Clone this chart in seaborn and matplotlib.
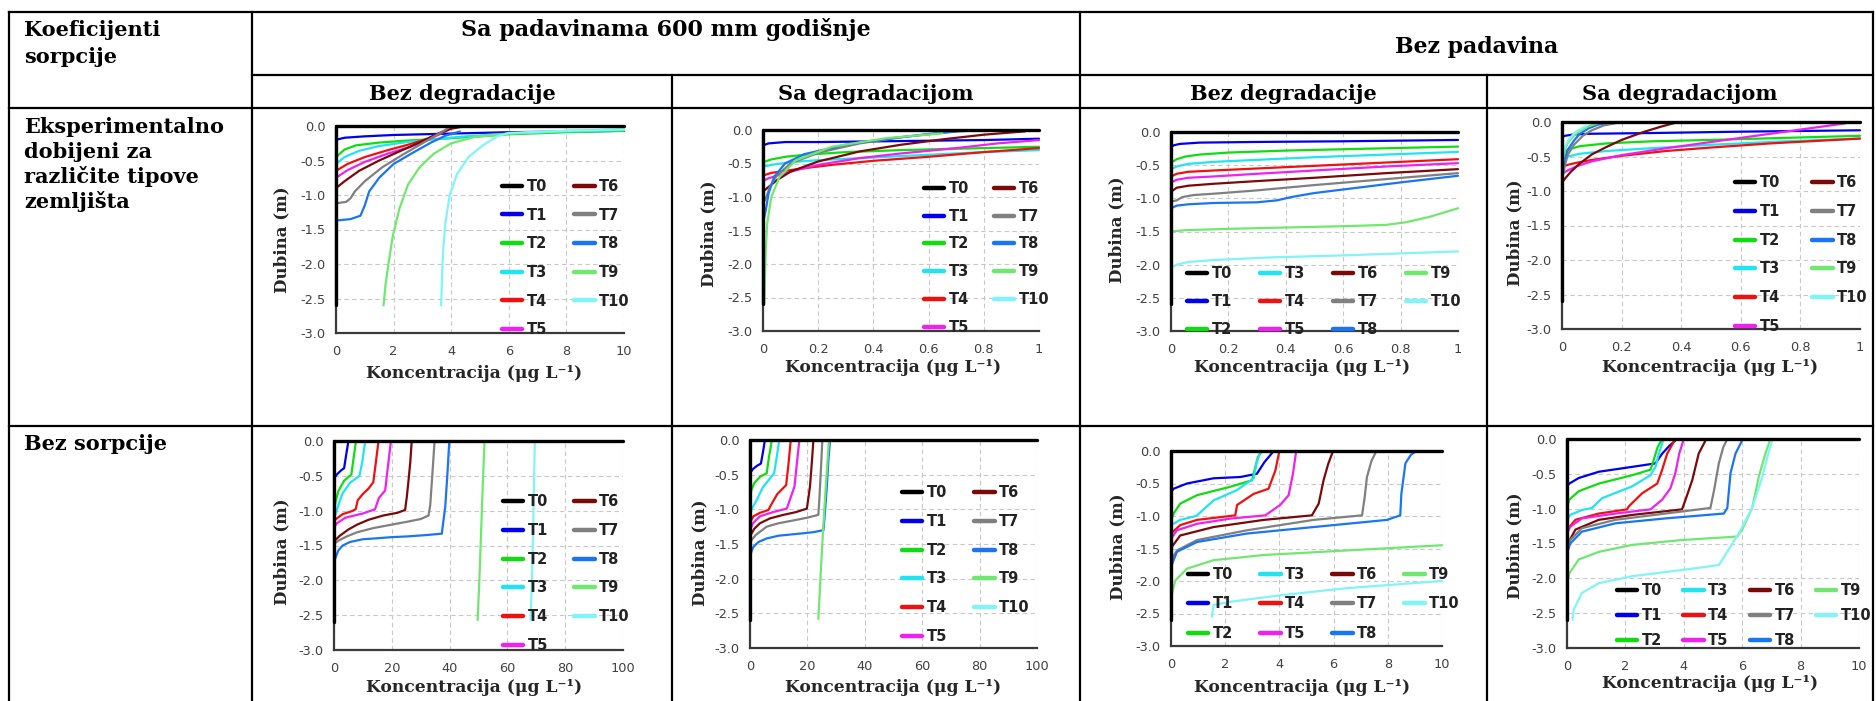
import numpy as np
import pandas as pd
import matplotlib
matplotlib.use("Agg")
import matplotlib.pyplot as plt
from matplotlib.lines import Line2D
import seaborn as sns

# Series names and colours (T0 = initial profile)
SERIJE = ["T0", "T1", "T2", "T3", "T4", "T5", "T6", "T7", "T8", "T9", "T10"]
BOJE = {"T0": "#000000", "T1": "#0000f0", "T2": "#10dd10", "T3": "#20e4f0",
        "T4": "#f01010", "T5": "#f020f0", "T6": "#7a0a0a", "T7": "#808080",
        "T8": "#1a75f5", "T9": "#70e870", "T10": "#80f4f8"}

# Each series: (concentration, depth)
# Sa padavinama, eksperimentalna sorpcija, bez degradacije
A_BEZ_DEG = {
    "T0": ([0, 0, 10], [-2.6, 0, 0]),
    "T1": ([0, 0.3, 1, 2, 4, 6, 8, 10], [-0.20, -0.17, -0.15, -0.13, -0.11, -0.09, -0.08, -0.07]),
    "T2": ([0, 0.3, 0.7, 1.5, 2.5, 3.5, 5, 6, 8, 10], [-0.45, -0.34, -0.28, -0.24, -0.21, -0.19, -0.15, -0.12, -0.09, -0.07]),
    "T3": ([0, 0.3, 0.8, 1.5, 2.5, 3.5, 4.5, 6, 8, 10], [-0.55, -0.45, -0.36, -0.29, -0.23, -0.19, -0.15, -0.11, -0.08, -0.06]),
    "T4": ([0, 0.4, 1, 1.8, 2.6, 3.2, 3.6, 4.0, 4.3], [-0.65, -0.55, -0.45, -0.35, -0.26, -0.18, -0.1, -0.03, 0.0]),
    "T5": ([0, 0.4, 1, 1.8, 2.6, 3.2, 3.6, 3.9, 4.1], [-0.75, -0.64, -0.52, -0.4, -0.3, -0.2, -0.12, -0.05, 0.0]),
    "T6": ([0, 0.3, 0.8, 1.5, 2.3, 3.0, 3.5, 4.0, 4.5], [-0.9, -0.8, -0.65, -0.5, -0.35, -0.22, -0.12, -0.04, 0.0]),
    "T7": ([0, 0.35, 0.5, 0.65, 1.0, 1.6, 2.3, 3.0, 3.5, 3.9], [-1.12, -1.1, -1.05, -0.95, -0.8, -0.6, -0.42, -0.25, -0.13, -0.03]),
    "T8": ([0, 0.5, 0.85, 1.0, 1.15, 1.5, 2.0, 2.7, 3.3, 3.8, 4.3], [-1.37, -1.35, -1.3, -1.15, -0.95, -0.75, -0.55, -0.38, -0.24, -0.14, -0.08]),
    "T9": ([1.65, 1.72, 1.82, 1.97, 2.2, 2.5, 2.9, 3.4, 4.0, 4.8, 6.0, 8.0, 10], [-2.6, -2.3, -2.0, -1.6, -1.2, -0.85, -0.6, -0.4, -0.25, -0.16, -0.11, -0.07, -0.05]),
    "T10": ([3.65, 3.68, 3.72, 3.8, 3.95, 4.2, 4.6, 5.1, 5.6, 6.0, 8.0, 10], [-2.6, -2.2, -1.8, -1.4, -1.0, -0.7, -0.45, -0.28, -0.15, -0.1, -0.07, -0.05]),
}

# Sa padavinama, eksperimentalna sorpcija, sa degradacijom
A_SA_DEG = {
    "T0": ([0, 0, 1], [-2.6, 0, 0]),
    "T1": ([0, 0.02, 0.08, 0.2, 0.4, 0.6, 0.8, 1.0], [-0.23, -0.2, -0.18, -0.18, -0.17, -0.16, -0.15, -0.13]),
    "T2": ([0, 0.03, 0.08, 0.15, 0.3, 0.5, 0.7, 1.0], [-0.48, -0.44, -0.4, -0.37, -0.33, -0.3, -0.28, -0.25]),
    "T3": ([0, 0.03, 0.1, 0.2, 0.4, 0.6, 0.8, 1.0], [-0.55, -0.52, -0.48, -0.45, -0.41, -0.37, -0.33, -0.3]),
    "T4": ([0, 0.03, 0.08, 0.15, 0.25, 0.4, 0.6, 0.8, 1.0], [-0.68, -0.64, -0.61, -0.57, -0.52, -0.46, -0.4, -0.33, -0.27]),
    "T5": ([0, 0.02, 0.06, 0.12, 0.2, 0.35, 0.5, 0.7, 0.85, 1.0], [-0.76, -0.72, -0.67, -0.6, -0.52, -0.42, -0.35, -0.27, -0.2, -0.15]),
    "T6": ([0, 0.02, 0.05, 0.1, 0.2, 0.35, 0.5, 0.65, 0.8, 0.95], [-0.92, -0.85, -0.75, -0.62, -0.47, -0.32, -0.22, -0.14, -0.07, -0.02]),
    "T7": ([0, 0.01, 0.025, 0.05, 0.1, 0.2, 0.35, 0.5, 0.65, 0.75], [-1.1, -1.02, -0.85, -0.68, -0.5, -0.34, -0.2, -0.11, -0.04, -0.01]),
    "T8": ([0, 0.01, 0.02, 0.04, 0.08, 0.15, 0.3, 0.45, 0.6, 0.7], [-1.38, -1.2, -0.95, -0.7, -0.5, -0.36, -0.22, -0.13, -0.06, -0.02]),
    "T9": ([0.005, 0.007, 0.01, 0.015, 0.03, 0.06, 0.12, 0.25, 0.45, 0.65], [-2.6, -2.2, -1.8, -1.4, -1.0, -0.7, -0.45, -0.25, -0.12, -0.05]),
    "T10": ([0, 0, 0], [-2.6, -2.0, -1.5]),
}

# Bez padavina, eksperimentalna sorpcija, bez degradacije
B_BEZ_DEG = {
    "T0": ([0, 0, 1], [-2.6, 0, 0]),
    "T1": ([0, 0.01, 0.03, 0.1, 0.3, 0.6, 1.0], [-0.23, -0.2, -0.18, -0.16, -0.15, -0.14, -0.12]),
    "T2": ([0, 0.02, 0.05, 0.1, 0.2, 0.4, 0.7, 1.0], [-0.46, -0.41, -0.37, -0.34, -0.31, -0.28, -0.25, -0.22]),
    "T3": ([0, 0.02, 0.06, 0.15, 0.3, 0.5, 0.75, 1.0], [-0.56, -0.52, -0.48, -0.45, -0.42, -0.38, -0.34, -0.3]),
    "T4": ([0, 0.02, 0.06, 0.15, 0.3, 0.5, 0.75, 1.0], [-0.67, -0.63, -0.6, -0.58, -0.55, -0.51, -0.46, -0.41]),
    "T5": ([0, 0.02, 0.06, 0.15, 0.3, 0.5, 0.75, 1.0], [-0.76, -0.72, -0.69, -0.67, -0.63, -0.58, -0.52, -0.47]),
    "T6": ([0, 0.02, 0.06, 0.15, 0.3, 0.5, 0.75, 1.0], [-0.9, -0.84, -0.81, -0.78, -0.74, -0.69, -0.62, -0.56]),
    "T7": ([0, 0.02, 0.04, 0.08, 0.15, 0.3, 0.5, 0.75, 1.0], [-1.05, -1.03, -0.98, -0.95, -0.93, -0.88, -0.8, -0.71, -0.62]),
    "T8": ([0, 0.02, 0.06, 0.15, 0.3, 0.37, 0.42, 0.5, 0.65, 0.8, 1.0], [-1.15, -1.11, -1.09, -1.07, -1.06, -1.03, -0.98, -0.92, -0.84, -0.76, -0.66]),
    "T9": ([0, 0.05, 0.2, 0.4, 0.6, 0.75, 0.82, 0.9, 1.0], [-1.5, -1.48, -1.46, -1.44, -1.42, -1.4, -1.36, -1.28, -1.15]),
    "T10": ([0, 0.02, 0.06, 0.15, 0.35, 0.6, 0.8, 1.0], [-2.05, -2.0, -1.96, -1.93, -1.89, -1.86, -1.83, -1.8]),
}

# Bez padavina, eksperimentalna sorpcija, sa degradacijom
B_SA_DEG = {
    "T0": ([0, 0, 1], [-2.6, 0, 0]),
    "T1": ([0, 0.01, 0.04, 0.1, 0.3, 0.6, 1.0], [-0.22, -0.2, -0.18, -0.17, -0.16, -0.14, -0.12]),
    "T2": ([0, 0.02, 0.06, 0.15, 0.3, 0.5, 0.75, 1.0], [-0.46, -0.4, -0.35, -0.31, -0.28, -0.26, -0.23, -0.2]),
    "T3": ([0, 0.02, 0.06, 0.15, 0.3, 0.5, 0.75, 1.0], [-0.55, -0.5, -0.46, -0.42, -0.38, -0.33, -0.28, -0.24]),
    "T4": ([0, 0.02, 0.05, 0.1, 0.2, 0.35, 0.5, 0.7, 1.0], [-0.65, -0.62, -0.59, -0.55, -0.49, -0.42, -0.37, -0.31, -0.24]),
    "T5": ([0, 0.02, 0.05, 0.1, 0.2, 0.35, 0.5, 0.65, 0.8, 0.95], [-0.75, -0.7, -0.64, -0.57, -0.48, -0.38, -0.29, -0.2, -0.11, -0.02]),
    "T6": ([0, 0.01, 0.03, 0.06, 0.1, 0.15, 0.2, 0.27, 0.33, 0.39], [-0.88, -0.82, -0.72, -0.6, -0.47, -0.36, -0.26, -0.15, -0.07, 0.0]),
    "T7": ([0.005, 0.01, 0.02, 0.04, 0.07, 0.1, 0.14, 0.2], [-0.75, -0.62, -0.47, -0.33, -0.2, -0.12, -0.05, 0.0]),
    "T8": ([0.005, 0.01, 0.02, 0.04, 0.06, 0.09, 0.12, 0.16], [-0.62, -0.52, -0.4, -0.27, -0.17, -0.09, -0.04, 0.0]),
    "T9": ([0.002, 0.005, 0.01, 0.02, 0.04, 0.06, 0.09, 0.12], [-0.62, -0.5, -0.4, -0.3, -0.2, -0.13, -0.06, -0.02]),
    "T10": ([0.002, 0.005, 0.01, 0.02, 0.035, 0.05, 0.08], [-0.55, -0.45, -0.36, -0.27, -0.19, -0.13, -0.06]),
}

# Sa padavinama, bez sorpcije, bez degradacije
C_BEZ_DEG = {
    "T0": ([0, 0, 100], [-2.6, 0, 0]),
    "T1": ([0, 1, 2.5, 3.5, 4.2, 5.0], [-0.54, -0.48, -0.42, -0.39, -0.2, 0.0]),
    "T2": ([0, 0.5, 1.5, 3.5, 6.0, 6.6, 7.6], [-1.0, -0.88, -0.72, -0.57, -0.48, -0.3, 0.0]),
    "T3": ([0, 0.5, 1.5, 3, 5.5, 8.8, 9.8, 10.8], [-1.12, -1.05, -0.92, -0.75, -0.6, -0.5, -0.3, 0.0]),
    "T4": ([0, 1, 3, 6, 7.5, 8.2, 10, 12, 13.6, 14.5, 15.4], [-1.15, -1.11, -1.05, -1.01, -0.98, -0.85, -0.76, -0.68, -0.59, -0.3, 0.0]),
    "T5": ([0, 1, 4, 10, 14.2, 15.5, 17.7, 18.7, 19.7], [-1.24, -1.18, -1.1, -1.04, -0.98, -0.82, -0.71, -0.35, 0.0]),
    "T6": ([0, 0.5, 2, 5, 8, 12, 17, 22, 24.6, 25.2, 25.8, 26.4, 26.9], [-1.45, -1.42, -1.36, -1.27, -1.2, -1.13, -1.07, -1.03, -0.99, -0.8, -0.56, -0.3, 0.0]),
    "T7": ([0, 0.5, 2, 4.4, 8, 13.6, 20, 25.2, 30, 32.7, 33.3, 34.0, 34.8], [-1.5, -1.46, -1.42, -1.37, -1.31, -1.25, -1.2, -1.16, -1.12, -1.07, -0.92, -0.5, 0.0]),
    "T8": ([0, 0.3, 1.5, 3, 5.5, 10, 13.6, 20, 25.2, 32, 37.3, 38.5, 39.2, 39.9], [-1.8, -1.7, -1.57, -1.5, -1.45, -1.41, -1.4, -1.38, -1.37, -1.35, -1.33, -0.94, -0.5, 0.0]),
    "T9": ([49.7, 50.3, 50.9, 51.5, 52.1], [-2.57, -2.0, -1.3, -0.6, 0.0]),
    "T10": ([68.0, 68.5, 68.9, 69.2, 69.5], [-2.57, -2.0, -1.3, -0.6, 0.0]),
}

# Sa padavinama, bez sorpcije, sa degradacijom
C_SA_DEG = {
    "T0": ([0, 0, 100], [-2.6, 0, 0]),
    "T1": ([0, 1, 2.5, 3.8, 4.5, 5.2], [-0.48, -0.42, -0.37, -0.34, -0.18, 0.0]),
    "T2": ([0, 0.5, 1.5, 3.5, 5.8, 6.6, 7.6], [-0.82, -0.72, -0.62, -0.53, -0.48, -0.25, 0.0]),
    "T3": ([0, 0.5, 1.5, 2.3, 4.5, 8.4, 9.3, 10.2], [-1.08, -1.0, -0.93, -0.87, -0.68, -0.48, -0.25, 0.0]),
    "T4": ([0, 0.5, 1.2, 3.5, 6.4, 7.0, 9.5, 12.6, 13.4, 14.2], [-1.2, -1.15, -1.1, -1.05, -1.01, -0.96, -0.78, -0.65, -0.35, 0.0]),
    "T5": ([0, 1, 3.5, 8, 12.8, 14, 15.5, 16.3, 17.2], [-1.3, -1.2, -1.1, -1.04, -0.99, -0.85, -0.67, -0.35, 0.0]),
    "T6": ([0, 0.5, 1.5, 3.5, 7, 11.6, 16, 19.8, 20.3, 20.9, 21.5, 22.1], [-1.4, -1.35, -1.28, -1.2, -1.13, -1.08, -1.04, -0.99, -0.85, -0.67, -0.35, 0.0]),
    "T7": ([0, 0.6, 2, 5.8, 10, 15.1, 20, 23.8, 24.1, 24.4, 24.8, 25.2], [-1.5, -1.44, -1.37, -1.25, -1.2, -1.16, -1.12, -1.08, -0.9, -0.67, -0.35, 0.0]),
    "T8": ([0, 0.4, 1.2, 3, 5.8, 10, 17.4, 22, 25.6, 26.2, 26.8, 27.3, 27.9], [-1.73, -1.62, -1.54, -1.47, -1.42, -1.38, -1.35, -1.33, -1.3, -1.0, -0.65, -0.3, 0.0]),
    "T9": ([23.8, 24.3, 24.8, 25.4, 25.9, 26.5, 27.0, 27.5], [-2.58, -2.2, -1.8, -1.35, -1.0, -0.6, -0.3, 0.0]),
    "T10": ([0, 0, 0], [-2.6, -2.3, -2.0]),
}

# Bez padavina, bez sorpcije, bez degradacije
D_BEZ_DEG = {
    "T0": ([0, 0, 10], [-2.6, 0, 0]),
    "T1": ([0, 0.1, 0.59, 1.57, 2.56, 3.17, 3.45, 3.79], [-0.63, -0.58, -0.5, -0.42, -0.4, -0.35, -0.17, 0.0]),
    "T2": ([0, 0.1, 0.34, 0.96, 2.19, 2.99, 3.11, 3.2, 3.36], [-1.06, -0.96, -0.81, -0.68, -0.55, -0.45, -0.25, -0.1, 0.0]),
    "T3": ([0, 0.34, 0.84, 0.96, 1.57, 2.44, 3.05, 3.15, 3.3], [-1.14, -1.06, -1.01, -0.99, -0.76, -0.6, -0.42, -0.2, 0.0]),
    "T4": ([0, 0.34, 0.96, 2.37, 2.44, 3.05, 3.6, 3.85, 4.0], [-1.27, -1.14, -1.06, -0.99, -0.83, -0.66, -0.58, -0.3, 0.0]),
    "T5": ([0, 0.22, 0.96, 2.19, 3.48, 4.03, 4.34, 4.5, 4.62], [-1.35, -1.22, -1.12, -1.04, -0.99, -0.83, -0.68, -0.35, 0.0]),
    "T6": ([0, 0.04, 0.34, 1.57, 3.42, 5.2, 5.45, 5.63, 5.8, 5.98], [-1.58, -1.47, -1.3, -1.17, -1.06, -0.99, -0.81, -0.45, -0.2, 0.0]),
    "T7": ([0, 0.22, 0.96, 2.8, 5.26, 7.05, 7.15, 7.23, 7.4, 7.58], [-1.68, -1.53, -1.37, -1.22, -1.06, -0.99, -0.7, -0.4, -0.15, 0.0]),
    "T8": ([0, 0.22, 0.96, 2.8, 5.26, 7.97, 8.46, 8.5, 8.65, 8.85, 9.05], [-1.78, -1.55, -1.4, -1.27, -1.17, -1.06, -0.99, -0.66, -0.19, -0.06, 0.0]),
    "T9": ([0, 0.03, 0.16, 0.59, 1.57, 3.42, 6.49, 10.0], [-2.4, -2.2, -1.99, -1.81, -1.68, -1.6, -1.53, -1.45]),
    "T10": ([1.51, 1.57, 2.19, 4.03, 6.49, 10.0], [-2.55, -2.37, -2.32, -2.22, -2.11, -2.0]),
}

# Bez padavina, bez sorpcije, sa degradacijom
D_SA_DEG = {
    "T0": ([0, 0, 10], [-2.6, 0, 0]),
    "T1": ([0, 0.08, 0.4, 1.09, 2.23, 3.03, 3.26, 3.5, 3.77], [-0.68, -0.64, -0.56, -0.47, -0.4, -0.35, -0.21, -0.1, 0.0]),
    "T2": ([0, 0.08, 0.4, 1.09, 2.23, 2.86, 2.97, 3.1, 3.26], [-0.97, -0.87, -0.75, -0.64, -0.52, -0.44, -0.3, -0.12, 0.0]),
    "T3": ([0, 0.11, 0.51, 0.86, 1.2, 2.23, 2.86, 3.03, 3.15, 3.31], [-1.16, -1.09, -1.02, -0.99, -0.85, -0.68, -0.52, -0.4, -0.2, 0.0]),
    "T4": ([0, 0.29, 1.09, 2.06, 2.11, 2.57, 3.09, 3.26, 3.43, 3.71], [-1.3, -1.16, -1.07, -1.01, -0.97, -0.78, -0.64, -0.44, -0.21, 0.0]),
    "T5": ([0, 0.11, 0.51, 1.66, 2.86, 3.26, 3.54, 3.71, 3.85, 4.0], [-1.35, -1.26, -1.14, -1.07, -1.01, -0.87, -0.71, -0.49, -0.2, 0.0]),
    "T6": ([0, 0.03, 0.29, 1.09, 2.23, 3.94, 4.06, 4.29, 4.51, 4.77], [-1.54, -1.5, -1.3, -1.16, -1.09, -1.01, -0.87, -0.59, -0.21, 0.0]),
    "T7": ([0, 0.11, 0.51, 1.66, 3.37, 4.91, 5.03, 5.2, 5.35, 5.49], [-1.57, -1.45, -1.28, -1.16, -1.07, -0.99, -0.75, -0.35, -0.12, 0.0]),
    "T8": ([0, 0.11, 0.51, 1.66, 3.37, 5.37, 5.49, 5.6, 5.77, 6.02], [-1.64, -1.5, -1.33, -1.21, -1.14, -1.07, -0.99, -0.49, -0.21, 0.0]),
    "T9": ([0, 0.08, 0.4, 1.09, 2.23, 3.94, 5.83, 6.0, 6.34, 6.57, 6.8, 6.97], [-2.07, -1.93, -1.73, -1.62, -1.52, -1.45, -1.4, -1.3, -0.99, -0.54, -0.2, 0.0]),
    "T10": ([0.19, 0.23, 0.51, 1.09, 2.23, 3.94, 5.2, 5.89, 6.34, 6.69, 6.9, 7.03], [-2.59, -2.45, -2.21, -2.07, -1.97, -1.88, -1.81, -1.35, -0.99, -0.54, -0.2, 0.0]),
}

X_MAX = [10, 1, 1, 1, 100, 100, 10, 10]
X_STEP = [2, 0.2, 0.2, 0.2, 20, 20, 2, 2]
Y_TICKS = [0.0, -0.5, -1.0, -1.5, -2.0, -2.5, -3.0]

W, H = 1876, 701

# layout in pixels: axes box (left, top, right, bottom), ylabel centre, xlabel centre,
# legend (first handle x, first row centre y, ncol, row pitch, column spacing)
LAYOUT = [
    ((336, 126, 624, 333), (282, 240), (474, 373), (502, 186, 2, 27.8, 1.85)),
    ((763, 130, 1039, 331), (709, 234), (893, 368), (924, 188, 2, 26.9, 1.7)),
    ((1171, 132, 1458, 331), (1117, 230), (1302, 367), (1187, 273, 4, 27.0, 1.9)),
    ((1562, 122, 1860, 329), (1515, 233), (1710, 368), (1735, 182, 2, 28.0, 2.2)),
    ((334, 441, 623, 650), (282, 552), (474, 687), (503, 501, 2, 28.0, 1.8)),
    ((750, 440, 1037, 648), (700, 553), (893, 687), (902, 492, 2, 28.0, 1.85)),
    ((1171, 451, 1442, 646), (1118, 547), (1302, 687), (1188, 574, 4, 28.5, 1.85)),
    ((1567, 439, 1859, 648), (1515, 546), (1710, 683), (1617, 590, 4, 24.0, 1.45)),
]
PANELI = [A_BEZ_DEG, A_SA_DEG, B_BEZ_DEG, B_SA_DEG, C_BEZ_DEG, C_SA_DEG, D_BEZ_DEG, D_SA_DEG]


def fx(x):
    return x / W


def fy(y):
    return 1 - y / H


def panel_frame(series):
    rows = []
    for name in SERIJE:
        xs, ys = series[name]
        for x, y in zip(xs, ys):
            rows.append((name, x, y))
    return pd.DataFrame(rows, columns=["serija", "koncentracija", "dubina"])


sns.set_style("white")
plt.rcParams["font.family"] = ["DejaVu Sans"]
plt.rcParams["axes.unicode_minus"] = False

fig = plt.figure(figsize=(W / 100, H / 100), dpi=100)
fig.patch.set_facecolor("white")

LEG_FS = 10.5
LEG_PX = LEG_FS * 100 / 72

for series, xmax, xstep, (box, ylab, xlab, leg) in zip(PANELI, X_MAX, X_STEP, LAYOUT):
    l, t, r, b = box
    ax = fig.add_axes([fx(l), fy(b), (r - l) / W, (b - t) / H])
    ax.set_facecolor("none")
    df = panel_frame(series)

    sns.lineplot(data=df[df.serija != "T0"], x="koncentracija", y="dubina", hue="serija",
                 palette=BOJE, sort=False, estimator=None, linewidth=1.6, legend=False, ax=ax)
    sns.lineplot(data=df[df.serija == "T0"], x="koncentracija", y="dubina", color="black",
                 sort=False, estimator=None, linewidth=2.4, legend=False, ax=ax)
    for ln in ax.lines:
        ln.set_clip_on(False)
        ln.set_solid_capstyle("round")
    ax.lines[-1].set_zorder(5)

    ax.set_xlim(0, xmax)
    ax.set_ylim(-3, 0)
    xt = np.round(np.arange(0, xmax + xstep / 2, xstep), 3)
    ax.set_xticks(xt)
    ax.set_xticklabels([f"{v:g}" for v in xt])
    ax.set_yticks(Y_TICKS)
    ax.set_yticklabels([f"{v:.1f}" for v in Y_TICKS])
    ax.grid(True, linestyle=(0, (4, 3)), color="#c8c8c8", linewidth=0.8)
    ax.set_axisbelow(True)
    for s in ["top", "right"]:
        ax.spines[s].set_visible(False)
    for s in ["left", "bottom"]:
        ax.spines[s].set_color("#3a3a3a")
        ax.spines[s].set_linewidth(1.6)
    ax.tick_params(direction="inout", length=8, width=1.2, color="#3a3a3a",
                   labelsize=9.3, labelcolor="#404040")
    ax.tick_params(axis="y", pad=3.5)
    ax.tick_params(axis="x", pad=4.5)

    ax.set_xlabel("Koncentracija (μg L⁻¹)", family="DejaVu Serif", weight="bold", size=12.3)
    ax.set_ylabel("Dubina (m)", family="DejaVu Serif", weight="bold", size=12)
    ax.xaxis.set_label_coords(fx(xlab[0]), fy(xlab[1]), transform=fig.transFigure)
    ax.yaxis.set_label_coords(fx(ylab[0]), fy(ylab[1]), transform=fig.transFigure)
    ax.xaxis.label.set_va("center")
    ax.yaxis.label.set_va("center")

    lx, ly, ncol, pitch, cs = leg
    handles = [Line2D([], [], color=BOJE[n], linewidth=3.2) for n in SERIJE]
    text_h = LEG_PX * 0.97
    ax.legend(handles, SERIJE, ncol=ncol, loc="upper left",
              bbox_to_anchor=(fx(lx), fy(ly - text_h / 2)), bbox_transform=fig.transFigure,
              frameon=False, borderpad=0, borderaxespad=0, handlelength=1.4,
              handletextpad=0.3, columnspacing=cs,
              labelspacing=(pitch - text_h) / LEG_PX,
              prop=dict(family="DejaVu Sans", weight="bold", size=LEG_FS),
              labelcolor="#222222")

# table frame
LW = 1.6
linije = [
    ((9, 12), (1873, 12)), ((252, 75), (1873, 75)), ((9, 108), (1873, 108)),
    ((9, 426), (1873, 426)),
    ((9, 12), (9, 701)), ((252, 12), (252, 701)), ((1080, 12), (1080, 701)),
    ((1873, 12), (1873, 701)), ((672, 75), (672, 701)), ((1487, 75), (1487, 701)),
]
for (x0, y0), (x1, y1) in linije:
    fig.add_artist(Line2D([fx(x0), fx(x1)], [fy(y0), fy(y1)], transform=fig.transFigure,
                          color="black", linewidth=LW, solid_capstyle="projecting"))

HDR = dict(family="DejaVu Serif", weight="bold", color="black", va="baseline")
fig.text(fx(24), fy(36), "Koeficijenti", ha="left", size=15, **HDR)
fig.text(fx(24), fy(63), "sorpcije", ha="left", size=15, **HDR)
fig.text(fx(666), fy(36), "Sa padavinama 600 mm godišnje", ha="center", size=16, **HDR)
fig.text(fx(1477), fy(53), "Bez padavina", ha="center", size=15.8, **HDR)
for cx, txt in [(462, "Bez degradacije"), (876, "Sa degradacijom"),
                (1283, "Bez degradacije"), (1680, "Sa degradacijom")]:
    fig.text(fx(cx), fy(100), txt, ha="center", size=15, **HDR)
for i, txt in enumerate(["Eksperimentalno", "dobijeni za", "različite tipove", "zemljišta"]):
    fig.text(fx(24), fy(133 + 25 * i), txt, ha="left", size=15, **HDR)
fig.text(fx(24), fy(450), "Bez sorpcije", ha="left", size=15, **HDR)

fig.savefig("out.png", dpi=100, facecolor="white")
